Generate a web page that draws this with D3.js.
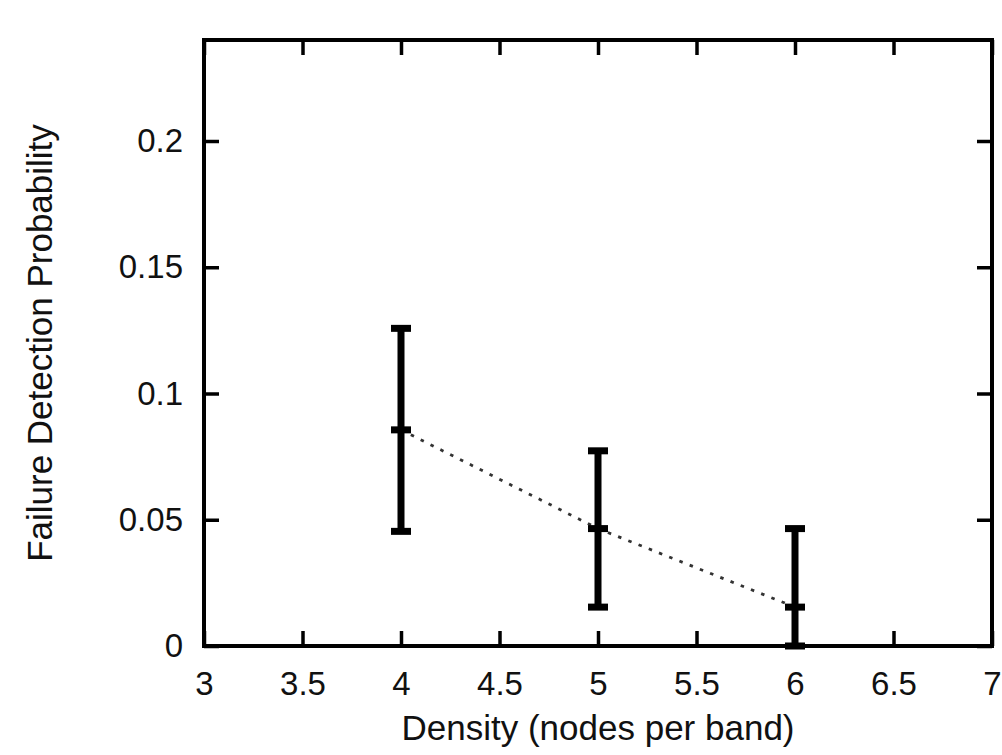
<!DOCTYPE html>
<html>
<head>
<meta charset="utf-8">
<script src="https://cdn.jsdelivr.net/npm/d3@7"></script>
<style>
  body { margin: 0; background: #fff; }
  text { font-family: "Liberation Sans", Arial, sans-serif; fill: #111; }
</style>
</head>
<body>
<div id="chart-area"></div>
<script>
// density values and measured detection probability
var density = [4, 5, 6]
var meanProb = [0.0856, 0.0465, 0.0154]
var lowProb = [0.0454, 0.0154, 0]
var highProb = [0.1258, 0.0773, 0.0465]

var xTicks = [3, 3.5, 4, 4.5, 5, 5.5, 6, 6.5, 7]
var yTicks = [0, 0.05, 0.1, 0.15, 0.2]

var data = density.map((d, i) => ({x: d, m: meanProb[i], lo: lowProb[i], hi: highProb[i]}))

var cw = 1002
var ch = 755
var m = {l: 204, t: 40, r: 10, b: 109}
var w = 992 - m.l
var h = ch - m.t - m.b

var svg = d3.select("#chart-area").append("svg")
    .attr("width", cw)
    .attr("height", ch)

var g = svg.append("g")
    .attr("transform", "translate(" + m.l + ", " + m.t + ")")

var x = d3.scaleLinear()
    .domain([3, 7])
    .range([0, w])

var y = d3.scaleLinear()
    .domain([0, 0.24])
    .range([h, 0])

var tickFont = "33px"
var labelFont = "35px"

// bottom axis with inward ticks
var bottomAxis = d3.axisBottom(x)
    .tickValues(xTicks)
    .tickSize(-15)
    .tickPadding(26)
    .tickFormat(d => d)

g.append("g")
    .attr("class", "bottom axis")
    .attr("transform", "translate(0, " + h + ")")
    .call(bottomAxis)
    .call(a => a.select(".domain").remove())
    .call(a => a.selectAll("line").attr("stroke", "#000").attr("stroke-width", 3.5))
    .call(a => a.selectAll("text").attr("font-size", tickFont).attr("fill", "#111"))

// top mirror ticks
g.append("g")
    .attr("class", "top axis")
    .call(d3.axisTop(x).tickValues(xTicks).tickSize(-15).tickFormat(""))
    .call(a => a.select(".domain").remove())
    .call(a => a.selectAll("line").attr("stroke", "#000").attr("stroke-width", 3.5))

var leftAxis = d3.axisLeft(y)
    .tickValues(yTicks)
    .tickSize(-15)
    .tickPadding(21)
    .tickFormat(d => d)

g.append("g")
    .attr("class", "left axis")
    .call(leftAxis)
    .call(a => a.select(".domain").remove())
    .call(a => a.selectAll("line").attr("stroke", "#000").attr("stroke-width", 3.5))
    .call(a => a.selectAll("text").attr("font-size", tickFont).attr("fill", "#111"))

// right mirror ticks
g.append("g")
    .attr("class", "right axis")
    .attr("transform", "translate(" + w + ", 0)")
    .call(d3.axisRight(y).tickValues(yTicks).tickSize(-15).tickFormat(""))
    .call(a => a.select(".domain").remove())
    .call(a => a.selectAll("line").attr("stroke", "#000").attr("stroke-width", 3.5))

// frame
g.append("rect")
    .attr("x", 0)
    .attr("y", 0)
    .attr("width", w)
    .attr("height", h)
    .attr("fill", "none")
    .attr("stroke", "#000")
    .attr("stroke-width", 4)

// dotted line through the means
var line = d3.line()
    .x(d => x(d.x))
    .y(d => y(d.m))

g.append("path")
    .datum(data)
    .attr("d", line)
    .attr("fill", "none")
    .attr("stroke", "#333")
    .attr("stroke-width", 2.8)
    .attr("stroke-dasharray", "3.5,7.5")

// error bars
var bars = g.selectAll(".ebar")
    .data(data).enter().append("g")
    .attr("class", "ebar")

bars.append("line")
    .attr("x1", d => x(d.x))
    .attr("x2", d => x(d.x))
    .attr("y1", d => y(d.lo))
    .attr("y2", d => y(d.hi))
    .attr("stroke", "#000")
    .attr("stroke-width", 7)

var capW = 10
;["lo", "m", "hi"].forEach(k => {
    bars.append("line")
        .attr("x1", d => x(d.x) - capW)
        .attr("x2", d => x(d.x) + capW)
        .attr("y1", d => y(d[k]))
        .attr("y2", d => y(d[k]))
        .attr("stroke", "#000")
        .attr("stroke-width", 7)
})

// axis labels
g.append("text")
    .attr("class", "x axis-label")
    .attr("x", w / 2)
    .attr("y", h + 94)
    .attr("font-size", labelFont)
    .attr("text-anchor", "middle")
    .text("Density (nodes per band)")

g.append("text")
    .attr("class", "y axis-label")
    .attr("x", -(h / 2))
    .attr("y", -152)
    .attr("font-size", labelFont)
    .attr("text-anchor", "middle")
    .attr("transform", "rotate(-90)")
    .text("Failure Detection Probability")
</script>
</body>
</html>
